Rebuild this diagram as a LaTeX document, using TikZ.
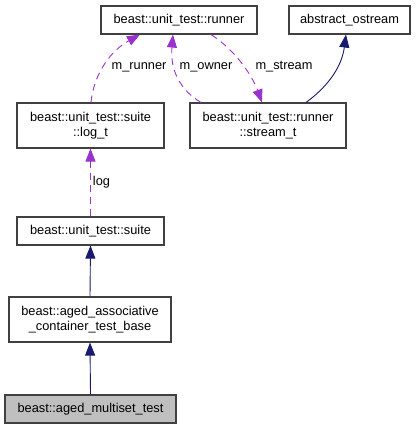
\documentclass[tikz,border=0pt]{standalone}
\usepackage{fontspec}
\setmainfont{Liberation Sans}
\usetikzlibrary{arrows.meta}
\definecolor{edgeblue}{HTML}{191970}
\definecolor{edgepurple}{HTML}{9A32CD}
\definecolor{boxline}{HTML}{404040}
\tikzset{
  box/.style={draw=boxline, line width=1.1pt, fill=white, inner sep=0pt, align=center, font=\fontsize{12.8}{15.5}\selectfont},
  inherit/.style={draw=edgeblue, line width=0.9pt, -{Triangle[width=10pt,length=13pt]}},
  usage/.style={draw=edgepurple, line width=0.9pt, dash pattern=on 7pt off 5pt, -{Triangle[width=10pt,length=13pt]}},
  lbl/.style={font=\fontsize{12.8}{15.5}\selectfont, inner sep=1pt}
}
\begin{document}
\begin{tikzpicture}[x=1pt,y=-1pt]
\useasboundingbox (0,0) rectangle (417,429);
\node[box, minimum width=156pt, minimum height=28pt] (runner) at (179,20) {beast::unit\_test::runner};
\node[box, minimum width=121pt, minimum height=28pt] (ostream) at (349.5,20) {abstract\_ostream};
\node[box, minimum width=147pt, minimum height=45pt] (logt) at (90.5,125.5) {beast::unit\_test::suite\\::log\_t};
\node[box, minimum width=156pt, minimum height=45pt] (streamt) at (268,125.5) {beast::unit\_test::runner\\::stream\_t};
\node[box, minimum width=147pt, minimum height=28pt] (suite) at (90.5,231) {beast::unit\_test::suite};
\node[box, minimum width=162pt, minimum height=45pt] (assoc) at (90,319.5) {beast::aged\_associative\\\_container\_test\_base};
\node[box, fill={rgb,255:red,191;green,191;blue,191}, minimum width=171pt, minimum height=28pt] (multi) at (90.5,409) {beast::aged\_multiset\_test};

\draw[inherit] (multi.north) -- (assoc.south);
\draw[inherit] (assoc.north) -- (suite.south);
\draw[usage] (suite.north) -- node[lbl, right, pos=0.5, xshift=1pt] {log} (logt.south);
\draw[usage] (logt.north -| 91,0) .. controls (94,72) and (112,50) .. (runner.south -| 140,0);
\node[lbl] (lrunner) at (139,67) {m\_runner};
\draw[usage] (streamt.north -| 201,0) .. controls (180,90) and (170,70) .. (runner.south -| 173,0);
\node[lbl] (lowner) at (206,67) {m\_owner};
\draw[usage] (runner.south -| 211,0) .. controls (235,50) and (252,75) .. (streamt.north -| 262,0);
\node[lbl] (lstream) at (284,67) {m\_stream};
\draw[inherit] (streamt.north -| 306,0) .. controls (330,85) and (342,65) .. (ostream.south -| 346,0);
\end{tikzpicture}
\end{document}
